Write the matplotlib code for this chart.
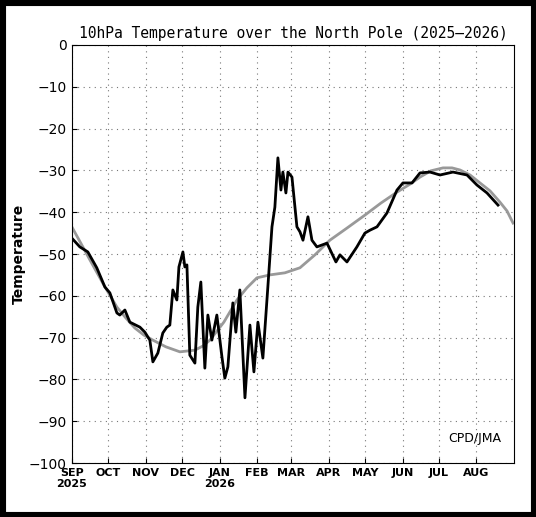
import matplotlib
matplotlib.use("Agg")
import matplotlib.pyplot as plt
import numpy as np

# Observed (pixel-read keypoints converted to day/value)
obs_px = [(72,238),(80,247),(88,252),(97,268),(105,287),(110,293),(117,313),(120,315),(125,310),
(130,322),(140,327),(145,332),(150,340),(153,362),(158,353),(163,333),(167,327),(170,325),(173,290),
(177,300),(179,267),(183,252),(185,267),(187,265),(190,355),(195,363),(198,307),(201,282),(205,368),
(208,315),(212,340),(217,315),(222,357),(225,378),(228,367),(233,303),(236,332),(240,290),(245,398),
(250,325),(254,372),(258,322),(263,358),(268,287),(272,227),(275,207),(278,158),(281,190),(283,172),
(286,193),(288,172),(292,177),(297,227),(300,232),(303,240),(308,217),(312,240),(317,247),(327,243),
(336,262),(340,255),(347,262),(357,247),(365,233),(370,230),(377,227),(387,213),(397,190),(403,183),
(412,183),(420,173),(430,172),(440,175),(453,172),(467,175),(477,185),(487,193),(498,205)]
clim_px = [(72,227),(81,243),(90,260),(104,285),(117,307),(126,318),(135,328),(144,335),(153,340),
(166,347),(180,352),(195,350),(203,346),(210,340),(224,322),(237,300),(247,288),(257,278),(270,275),
(285,273),(300,268),(315,255),(330,240),(347,228),(365,215),(381,203),(397,192),(410,184),(420,177),
(431,171),(443,168),(452,168),(460,170),(470,175),(480,183),(490,191),(500,202),(507,211),(513,223)]

obs_day = [round((x-72)/1.211, 1) for x, y in obs_px]
obs_val = [round(-(y-45)/4.18, 1) for x, y in obs_px]
clim_day = [round((x-72)/1.211, 1) for x, y in clim_px]
clim_val = [round(-(y-45)/4.18, 1) for x, y in clim_px]

month_days = [0,30,61,91,122,153,181,212,242,273,303,334]
month_labels = ["SEP\n2025","OCT","NOV","DEC","JAN\n2026","FEB","MAR","APR","MAY","JUN","JUL","AUG"]

fig = plt.figure(figsize=(5.36,5.17), dpi=100, facecolor="white")
fig.patches.append(plt.Rectangle((0,0),1,1,transform=fig.transFigure,fill=False,
                                 edgecolor="black",linewidth=8))
ax = fig.add_axes([0.134,0.1044,0.825,0.8086])
ax.plot(clim_day, clim_val, color="#999999", lw=2)
ax.plot(obs_day, obs_val, color="black", lw=2)
ax.set_xlim(0,365)
ax.set_ylim(-100,0)
ax.set_yticks(np.arange(-100,1,10))
ax.set_xticks(month_days)
ax.set_xticklabels(month_labels, fontsize=8, fontweight="bold")
ax.tick_params(axis="y", labelsize=10, direction="in")
ax.tick_params(axis="x", direction="in")
ax.grid(True, linestyle=(0,(1,4)), color="#777777", lw=0.8)
ax.set_ylabel("Temperature", fontsize=10, fontweight="bold", labelpad=2)
ax.set_title("10hPa Temperature over the North Pole (2025\u20132026)", fontsize=10.5,
             family="DejaVu Sans Mono", pad=5)
ax.text(0.97,0.05,"CPD/JMA",transform=ax.transAxes,ha="right",fontsize=9)
fig.savefig("out.png", dpi=100)
